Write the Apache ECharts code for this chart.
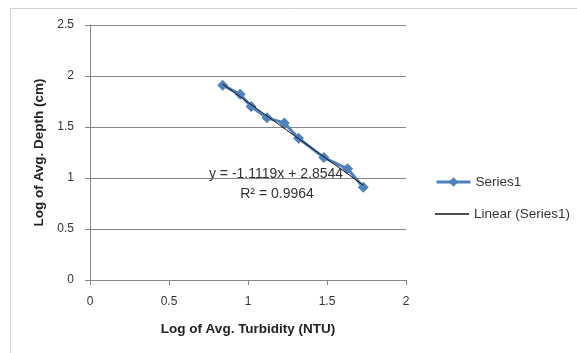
<!DOCTYPE html>
<html><head><meta charset="utf-8">
<script src="https://cdn.jsdelivr.net/npm/echarts@6/dist/echarts.min.js"></script>
<style>html,body{margin:0;padding:0;background:#fff}#c{width:577px;height:353px}</style>
</head><body><div id="c"></div>
<script>
const turbidityLog = [0.84, 0.95, 1.02, 1.12, 1.23, 1.32, 1.48, 1.63, 1.73];
const depthLog = [1.91, 1.82, 1.70, 1.59, 1.54, 1.39, 1.20, 1.09, 0.91];
const trendX = [0.84, 1.73];
const trendY = [1.92, 0.93];
const xTicks = [0, 0.5, 1, 1.5, 2];
const yTicks = [0, 0.5, 1, 1.5, 2, 2.5];
const equationText = 'y = -1.1119x + 2.8544';
const r2Text = 'R² = 0.9964';

const font = '"Liberation Sans", Arial, sans-serif';
const chart = echarts.init(document.getElementById('c'));
chart.setOption({
  animation: false,
  backgroundColor: '#fff',
  grid: {left: 90, right: 171, top: 25, bottom: 73, containLabel: false},
  xAxis: {
    type: 'value', min: 0, max: 2, interval: 0.5,
    name: 'Log of Avg. Turbidity (NTU)', nameLocation: 'middle', nameGap: 42,
    nameTextStyle: {fontFamily: font, fontWeight: 'bold', fontSize: 13.5, color: '#222'},
    axisLine: {show: true, lineStyle: {color: '#868686'}},
    axisTick: {show: true, length: 5, inside: false, lineStyle: {color: '#868686'}},
    axisLabel: {fontFamily: font, fontSize: 12, color: '#333', margin: 16,
      formatter: v => xTicks.includes(v) ? String(v) : ''},
    splitLine: {show: false}
  },
  yAxis: {
    type: 'value', min: 0, max: 2.5, interval: 0.5,
    name: 'Log of Avg. Depth (cm)', nameLocation: 'middle', nameGap: 41, nameRotate: 90,
    nameTextStyle: {fontFamily: font, fontWeight: 'bold', fontSize: 13.5, color: '#222'},
    axisLine: {show: true, lineStyle: {color: '#868686'}},
    axisTick: {show: true, length: 5, inside: false, lineStyle: {color: '#868686'}},
    axisLabel: {fontFamily: font, fontSize: 12, color: '#333', margin: 16,
      formatter: v => yTicks.includes(v) ? String(v) : ''},
    splitLine: {show: true, lineStyle: {color: '#868686', width: 1}}
  },
  legend: [
    {
      left: 430, top: 170, itemWidth: 34, itemHeight: 12,
      lineStyle: {width: 3, color: '#4F81BD'},
      textStyle: {fontFamily: font, fontSize: 13.5, color: '#333'},
      data: ['Series1']
    },
    {
      left: 430, top: 202, itemWidth: 34, itemHeight: 1.5, icon: 'rect',
      textStyle: {fontFamily: font, fontSize: 13.5, color: '#333'},
      data: ['Linear (Series1)']
    }
  ],
  series: [
    {
      name: 'Series1', type: 'line',
      data: turbidityLog.map((x, i) => [x, depthLog[i]]),
      symbol: 'diamond', symbolSize: 11,
      lineStyle: {color: '#4F81BD', width: 3},
      itemStyle: {color: '#4F81BD'},
      z: 2
    },
    {
      name: 'Linear (Series1)', type: 'line',
      data: trendX.map((x, i) => [x, trendY[i]]),
      symbol: 'none',
      lineStyle: {color: '#111', width: 1},
      itemStyle: {color: '#111'},
      z: 3
    }
  ],
  graphic: [
    {type: 'rect', shape: {x: 10.5, y: 8.5, width: 600, height: 400},
     style: {fill: 'none', stroke: '#d0d0d0', lineWidth: 1}, silent: true, z: -1},
    {type: 'text', x: 276, y: 174, z: 10,
     style: {text: equationText, font: '14px ' + font, fill: '#333', align: 'center', verticalAlign: 'middle', textAlign: 'center', textVerticalAlign: 'middle'}},
    {type: 'text', x: 277, y: 194, z: 10,
     style: {text: r2Text, font: '14px ' + font, fill: '#333', align: 'center', verticalAlign: 'middle', textAlign: 'center', textVerticalAlign: 'middle'}}
  ]
});
</script></body></html>
